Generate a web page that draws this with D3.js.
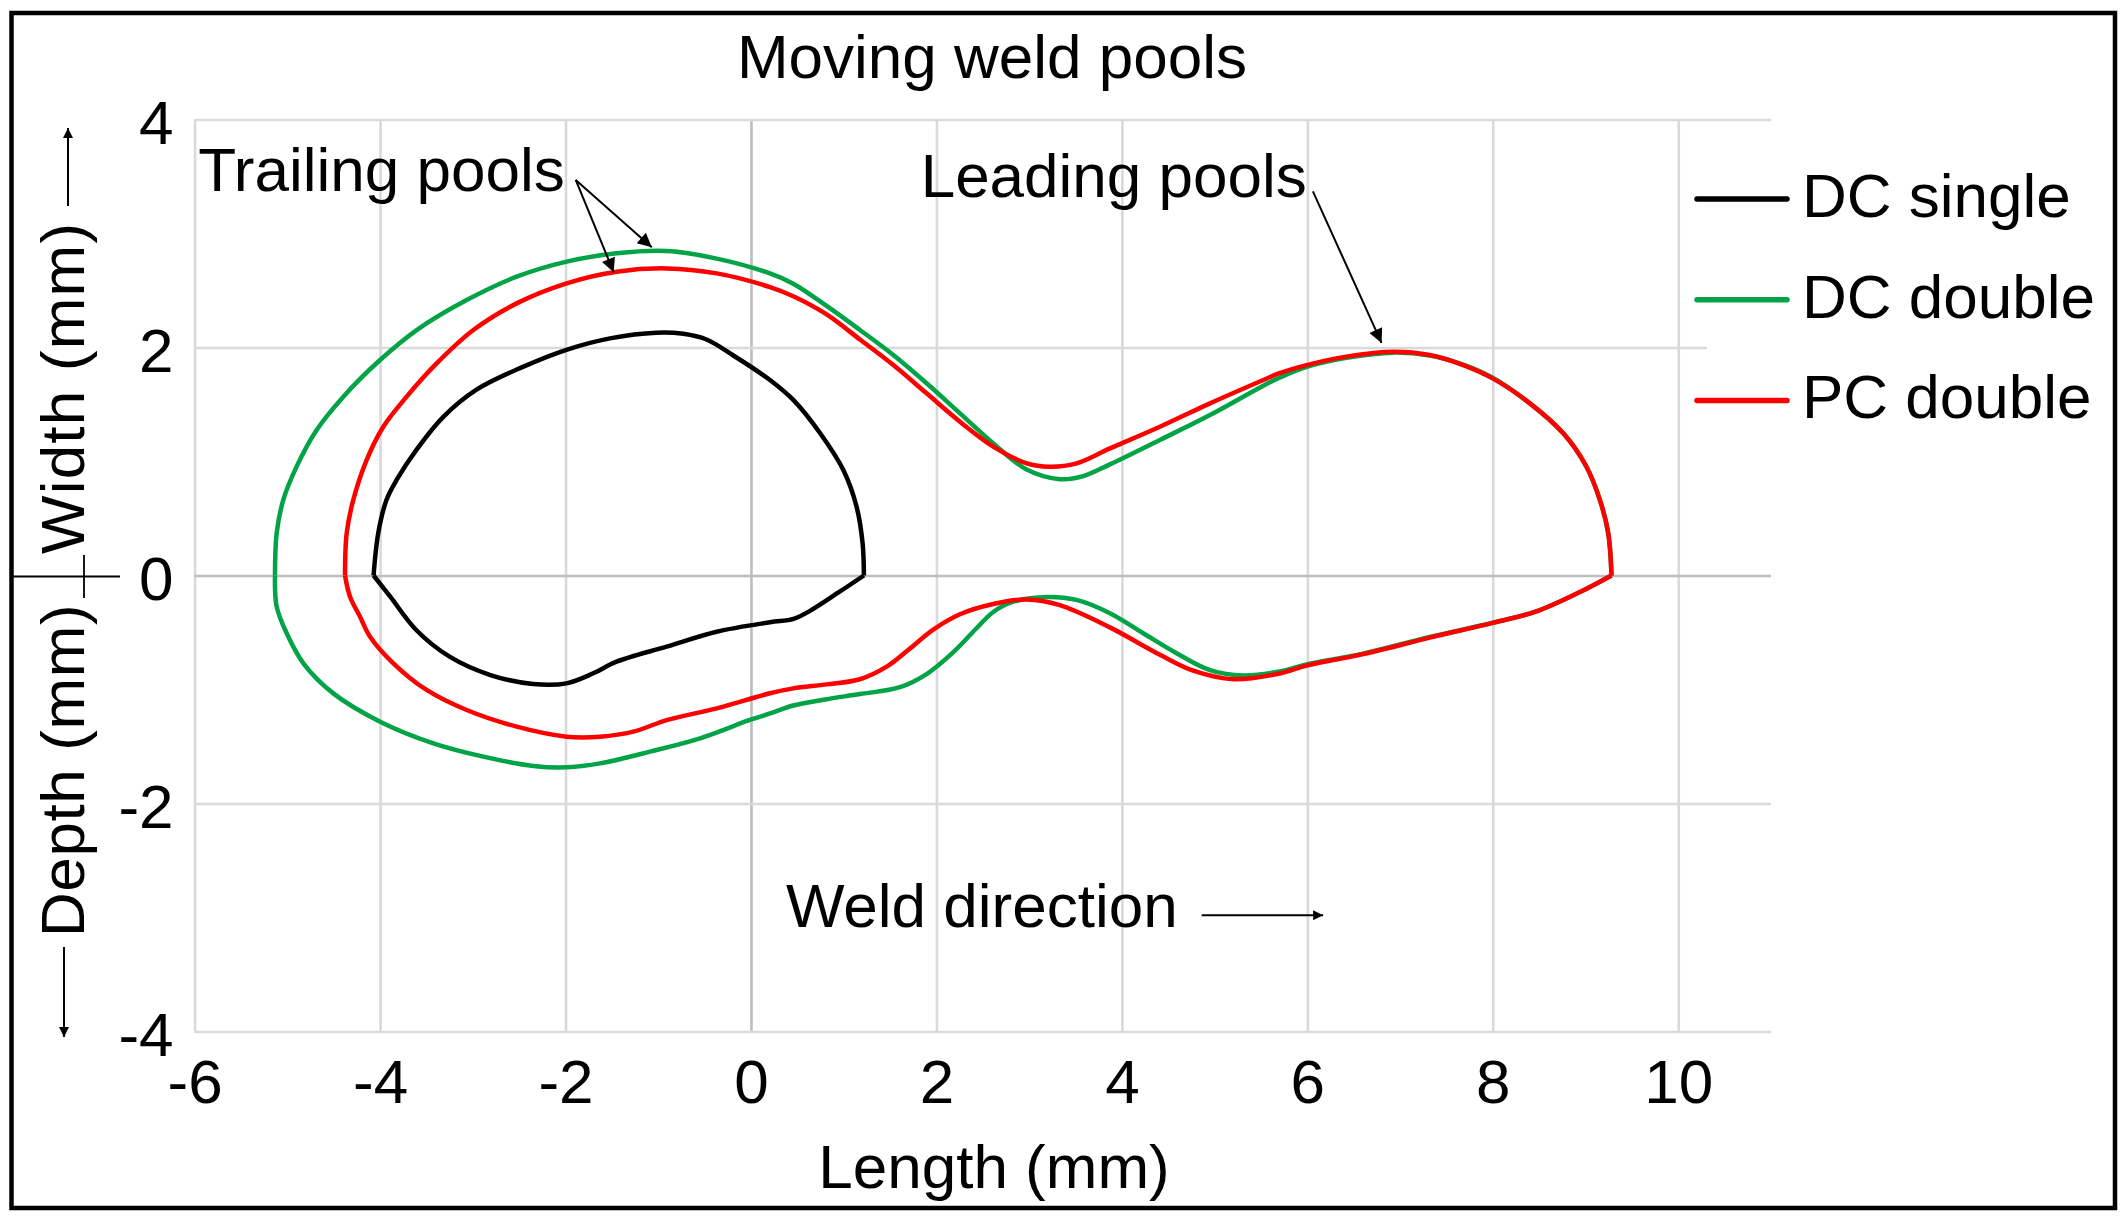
<!DOCTYPE html>
<html>
<head>
<meta charset="utf-8">
<script src="https://cdn.jsdelivr.net/npm/d3@7"></script>
<style>
  body { margin: 0; background: #fff; }
  text { font-family: "Liberation Sans", Arial, sans-serif; fill: #000; }
</style>
</head>
<body>
<div id="chart"></div>
<script>
// Moving weld pools: pool outlines, width above the axis, depth below

const xTicks = [-6, -4, -2, 0, 2, 4, 6, 8, 10];
const yTicks = [-4, -2, 0, 2, 4];

const seriesNames = ["DC single", "DC double", "PC double"];
const seriesColors = ["#000000", "#00a346", "#ff0000"];

// DC single (black)
const dcSingleUpper = [
  [-4.07, 0], [-4.02, 0.37], [-3.93, 0.665], [-3.82, 0.84], [-3.61, 1.10], [-3.32, 1.39],
  [-2.96, 1.63], [-2.46, 1.83], [-1.99, 1.98], [-1.52, 2.08], [-1.02, 2.13], [-0.73, 2.12],
  [-0.48, 2.07], [-0.19, 1.93], [0.205, 1.715], [0.456, 1.54], [0.744, 1.25], [0.996, 0.925],
  [1.14, 0.60], [1.204, 0.28], [1.218, 0]
];
const dcSingleLower = [
  [-4.07, 0], [-3.89, -0.186], [-3.61, -0.478], [-3.25, -0.712], [-2.81, -0.873], [-2.35, -0.952],
  [-1.99, -0.946], [-1.70, -0.858], [-1.45, -0.756], [-0.91, -0.624], [-0.37, -0.493],
  [0.205, -0.41], [0.46, -0.38], [0.636, -0.31], [0.96, -0.14], [1.218, 0]
];

// DC double (green)
const dcDoubleUpper = [
  [-5.133, 0], [-5.115, 0.37], [-5.043, 0.665], [-4.90, 0.955], [-4.684, 1.276], [-4.396, 1.569],
  [-4.0, 1.89], [-3.605, 2.153], [-3.066, 2.416], [-2.527, 2.621], [-1.988, 2.753], [-1.449, 2.826],
  [-0.909, 2.846], [-0.37, 2.78], [0.205, 2.65], [0.456, 2.56], [0.816, 2.365], [1.175, 2.154],
  [1.535, 1.934], [1.894, 1.686], [2.254, 1.422], [2.613, 1.159], [2.973, 0.93], [3.333, 0.845],
  [3.584, 0.872], [3.871, 0.975], [4.41, 1.189], [4.95, 1.408], [5.525, 1.665], [5.70, 1.735],
  [5.992, 1.83], [6.423, 1.91], [6.926, 1.955], [7.32, 1.93], [7.68, 1.85], [7.998, 1.735],
  [8.40, 1.51], [8.76, 1.247], [9.01, 0.954], [9.155, 0.662], [9.245, 0.37], [9.28, 0]
];
const dcDoubleLower = [
  [-5.133, 0], [-5.115, -0.273], [-5.007, -0.507], [-4.827, -0.77], [-4.504, -1.034], [-4.0, -1.282],
  [-3.425, -1.472], [-2.886, -1.589], [-2.347, -1.671], [-1.988, -1.683], [-1.628, -1.648],
  [-1.089, -1.545], [-0.55, -1.428], [-0.011, -1.267], [0.205, -1.21], [0.456, -1.14],
  [0.816, -1.085], [1.175, -1.04], [1.607, -0.98], [1.894, -0.865], [2.18, -0.675], [2.43, -0.465],
  [2.613, -0.32], [2.829, -0.23], [3.188, -0.188], [3.51, -0.214], [3.871, -0.331], [4.23, -0.507],
  [4.59, -0.682], [4.95, -0.83], [5.31, -0.877], [5.70, -0.842], [5.99, -0.78], [6.60, -0.685],
  [7.32, -0.54], [8.0, -0.415], [8.47, -0.315], [8.94, -0.145], [9.28, 0]
];

// PC double (red)
const pcDoubleUpper = [
  [-4.378, 0], [-4.36, 0.37], [-4.288, 0.665], [-4.145, 1.013], [-3.965, 1.305], [-3.713, 1.569],
  [-3.39, 1.86], [-2.994, 2.153], [-2.527, 2.387], [-1.988, 2.563], [-1.449, 2.665], [-0.909, 2.694],
  [-0.37, 2.65], [0.205, 2.53], [0.456, 2.45], [0.816, 2.29], [1.175, 2.07], [1.535, 1.846],
  [1.894, 1.598], [2.254, 1.349], [2.613, 1.13], [2.973, 0.984], [3.222, 0.955], [3.51, 0.984],
  [3.871, 1.115], [4.41, 1.305], [4.95, 1.51], [5.525, 1.715], [5.70, 1.775], [5.992, 1.846],
  [6.423, 1.92], [6.926, 1.963], [7.32, 1.934], [7.68, 1.846], [7.998, 1.729], [8.40, 1.51],
  [8.76, 1.247], [9.01, 0.954], [9.155, 0.662], [9.245, 0.37], [9.28, 0]
];
const pcDoubleLower = [
  [-4.378, 0], [-4.324, -0.186], [-4.216, -0.361], [-4.108, -0.537], [-3.857, -0.77], [-3.498, -1.004],
  [-3.066, -1.18], [-2.527, -1.326], [-1.988, -1.414], [-1.628, -1.414], [-1.269, -1.37],
  [-0.909, -1.268], [-0.37, -1.165], [0.205, -1.033], [0.456, -0.99], [0.816, -0.955], [1.175, -0.91],
  [1.463, -0.80], [1.715, -0.64], [1.966, -0.475], [2.254, -0.34], [2.613, -0.25], [2.973, -0.21],
  [3.33, -0.26], [3.87, -0.455], [4.41, -0.695], [4.77, -0.835], [5.20, -0.91], [5.70, -0.86],
  [5.99, -0.79], [6.60, -0.69], [7.32, -0.545], [8.0, -0.415], [8.47, -0.315], [8.94, -0.145], [9.28, 0]
];

const seriesOutlines = [
  { name: "DC double", color: seriesColors[1], parts: [dcDoubleUpper, dcDoubleLower] },
  { name: "PC double", color: seriesColors[2], parts: [pcDoubleUpper, pcDoubleLower] },
  { name: "DC single", color: seriesColors[0], parts: [dcSingleUpper, dcSingleLower] }
];

const W = 2127, H = 1216;
const FS = 62;

const svg = d3.select("#chart")
  .append("svg")
  .attr("width", W)
  .attr("height", H);

svg.append("rect").attr("width", W).attr("height", H).attr("fill", "#fff");

// arrowhead markers
const defs = svg.append("defs");
function addMarker(id, len, wid) {
  defs.append("marker")
    .attr("id", id)
    .attr("viewBox", "0 0 10 10")
    .attr("refX", 10)
    .attr("refY", 5)
    .attr("markerUnits", "userSpaceOnUse")
    .attr("markerWidth", len)
    .attr("markerHeight", wid)
    .attr("orient", "auto")
    .append("path")
    .attr("d", "M0,0 L10,5 L0,10 Z")
    .attr("fill", "#000");
}
addMarker("headBig", 17, 14);
addMarker("headSmall", 13, 10);

// scales
const x = d3.scaleLinear().domain([-6, 11]).range([194.6, 1771]);
const y = d3.scaleLinear().domain([-4, 4]).range([1031.5, 119.5]);

// vertical grid + x tick labels
const gx = svg.append("g")
  .attr("transform", `translate(0,${y(-4)})`)
  .call(d3.axisBottom(x)
    .tickValues(xTicks)
    .tickSize(-(y(-4) - y(4)))
    .tickPadding(27)
    .tickFormat(d => String(d)));
gx.select(".domain").remove();
gx.selectAll(".tick line")
  .attr("stroke", d => d === 0 ? "#bdbdbd" : "#d9d9d9")
  .attr("stroke-width", 2.6);
gx.selectAll(".tick text")
  .attr("font-size", FS)
  .attr("fill", "#000");

// horizontal grid + y tick labels
const gy = svg.append("g")
  .attr("transform", `translate(${x(-6)},0)`)
  .call(d3.axisLeft(y)
    .tickValues(yTicks)
    .tickSize(-(x(11) - x(-6)))
    .tickPadding(21)
    .tickFormat(d => String(d)));
gy.select(".domain").remove();
gy.selectAll(".tick line")
  .attr("stroke", d => d === 0 ? "#bdbdbd" : "#d9d9d9")
  .attr("stroke-width", 2.6);
gy.selectAll(".tick text")
  .attr("font-size", FS)
  .attr("dy", "0.38em")
  .attr("fill", "#000");

// legend background hides the grid behind it
svg.append("rect")
  .attr("x", 1707).attr("y", 135)
  .attr("width", 400).attr("height", 360)
  .attr("fill", "#fff");

// pool outlines
const line = d3.line()
  .x(d => x(d[0]))
  .y(d => y(d[1]))
  .curve(d3.curveCatmullRom.alpha(0.5));

seriesOutlines.forEach(s => {
  svg.append("g")
    .selectAll("path")
    .data(s.parts)
    .join("path")
    .attr("d", line)
    .attr("fill", "none")
    .attr("stroke", s.color)
    .attr("stroke-width", 4.5)
    .attr("stroke-linejoin", "round");
});

// legend
const legend = svg.append("g").attr("transform", "translate(1697,199)");
seriesNames.forEach((name, i) => {
  const item = legend.append("g").attr("transform", `translate(0,${i * 100.7})`);
  item.append("line")
    .attr("x1", 0).attr("x2", 90)
    .attr("stroke", seriesColors[i])
    .attr("stroke-width", 5.5)
    .attr("stroke-linecap", "round");
  item.append("text")
    .attr("x", 105)
    .attr("y", 18)
    .attr("font-size", FS)
    .text(name);
});

// title and axis labels
svg.append("text")
  .attr("x", 992).attr("y", 78)
  .attr("text-anchor", "middle")
  .attr("font-size", FS)
  .text("Moving weld pools");

svg.append("text")
  .attr("x", 994).attr("y", 1188)
  .attr("text-anchor", "middle")
  .attr("font-size", FS)
  .text("Length (mm)");

svg.append("text")
  .attr("transform", "translate(84,554) rotate(-90)")
  .attr("font-size", FS)
  .attr("letter-spacing", 1.2)
  .text("Width (mm)");

svg.append("text")
  .attr("transform", "translate(84,937) rotate(-90)")
  .attr("font-size", FS)
  .attr("letter-spacing", 0.6)
  .text("Depth (mm)");

// axis-label arrows and separator
svg.append("line")
  .attr("x1", 68).attr("y1", 206).attr("x2", 68).attr("y2", 128)
  .attr("stroke", "#000").attr("stroke-width", 2)
  .attr("marker-end", "url(#headSmall)");
svg.append("line")
  .attr("x1", 64).attr("y1", 947).attr("x2", 64).attr("y2", 1037)
  .attr("stroke", "#000").attr("stroke-width", 2)
  .attr("marker-end", "url(#headSmall)");
svg.append("line")
  .attr("x1", 13).attr("y1", y(0) + 1).attr("x2", 120).attr("y2", y(0) + 1)
  .attr("stroke", "#000").attr("stroke-width", 1.8);
svg.append("line")
  .attr("x1", 84).attr("y1", 555).attr("x2", 84).attr("y2", 598)
  .attr("stroke", "#000").attr("stroke-width", 1.8);

// annotations (positions in data units)
const notes = [
  { text: "Trailing pools", at: [-5.96, 3.375] },
  { text: "Leading pools", at: [1.83, 3.32] },
  { text: "Weld direction", at: [0.377, -3.08] }
];
svg.append("g")
  .selectAll("text")
  .data(notes)
  .join("text")
  .attr("x", d => x(d.at[0]))
  .attr("y", d => y(d.at[1]))
  .attr("font-size", FS)
  .text(d => d.text);

const pointers = [
  { from: [-1.89, 3.47], to: [-1.07, 2.88], head: "headBig" },
  { from: [-1.89, 3.47], to: [-1.48, 2.66], head: "headBig" },
  { from: [6.06, 3.37], to: [6.80, 2.04], head: "headBig" },
  { from: [4.86, -2.98], to: [6.17, -2.98], head: "headSmall" }
];
svg.append("g")
  .selectAll("line")
  .data(pointers)
  .join("line")
  .attr("x1", d => x(d.from[0]))
  .attr("y1", d => y(d.from[1]))
  .attr("x2", d => x(d.to[0]))
  .attr("y2", d => y(d.to[1]))
  .attr("stroke", "#000")
  .attr("stroke-width", 2)
  .attr("marker-end", d => `url(#${d.head})`);

// outer frame
svg.append("rect")
  .attr("x", 11.5).attr("y", 13)
  .attr("width", 2103.5).attr("height", 1195)
  .attr("fill", "none")
  .attr("stroke", "#000")
  .attr("stroke-width", 4.5);
</script>
</body>
</html>
